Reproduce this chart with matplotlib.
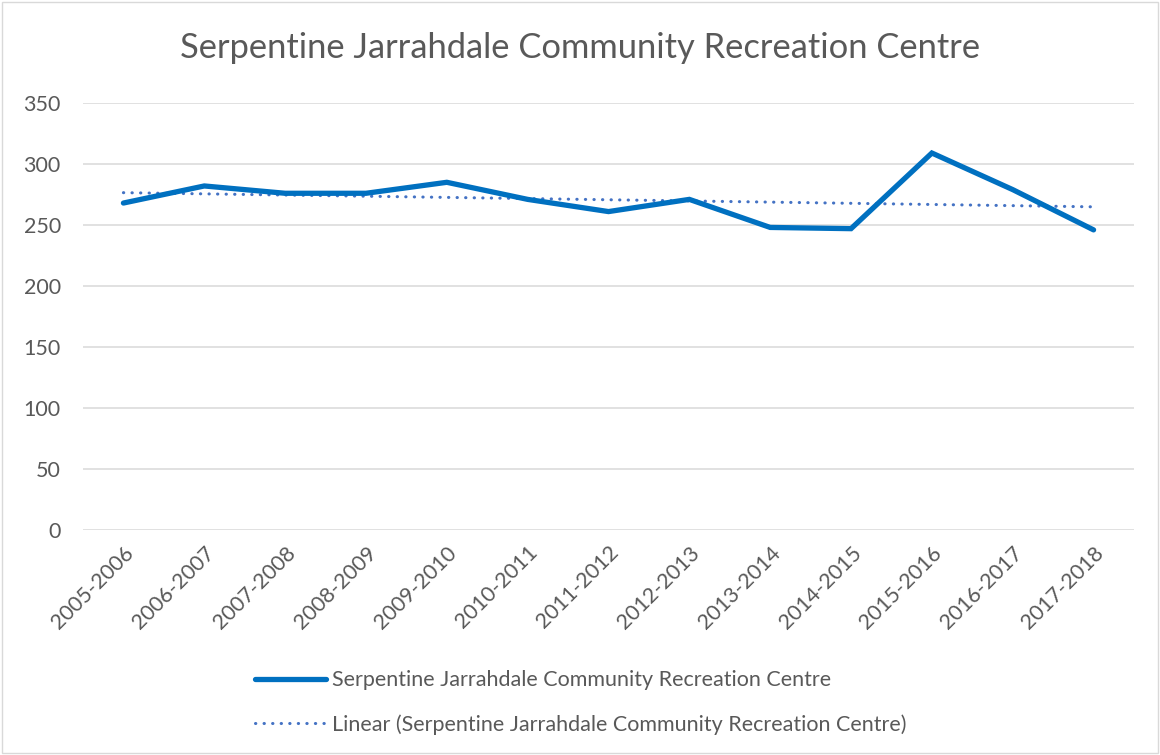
import numpy as np
import matplotlib
matplotlib.use("Agg")
import matplotlib.pyplot as plt
from matplotlib.patches import Rectangle
from matplotlib.lines import Line2D

plt.rcParams['font.family'] = ['Lato', 'DejaVu Sans']

# data
seasons = ['2005-2006', '2006-2007', '2007-2008', '2008-2009', '2009-2010',
           '2010-2011', '2011-2012', '2012-2013', '2013-2014', '2014-2015',
           '2015-2016', '2016-2017', '2017-2018']
visits = [268, 282, 276, 276, 285, 271, 261, 271, 248, 247, 309, 279, 246]
y_ticks = [0, 50, 100, 150, 200, 250, 300, 350]

title = 'Serpentine Jarrahdale Community Recreation Centre'
series_name = 'Serpentine Jarrahdale Community Recreation Centre'

grey = '#595959'
x = np.arange(len(seasons))

# linear trendline, same as excel
slope, icpt = np.polyfit(x, visits, 1)
trend = slope * x + icpt

dotted = (0, (0.1, 2.7))

fig = plt.figure(figsize=(11.6, 7.55), dpi=100)
ax = fig.add_axes([83 / 1160, 1 - 530 / 755, 1051 / 1160, 427 / 755])

ax.plot(x, visits, color='#0070C0', lw=3.8, solid_capstyle='round',
        solid_joinstyle='miter', zorder=3)
ax.plot(x, trend, color='#4472C4', lw=2.2, linestyle=dotted,
        dash_capstyle='round', zorder=2)

ax.set_xlim(-0.5, len(seasons) - 0.5)
ax.set_ylim(0, 350)
ax.set_yticks(y_ticks)
ax.set_xticks(x)
ax.set_xticklabels(seasons, rotation=45, ha='right', rotation_mode='anchor')
ax.tick_params(axis='both', length=0, labelsize=15.5, colors=grey)
ax.tick_params(axis='y', pad=16)
ax.tick_params(axis='x', pad=9)
ax.grid(axis='y', color='#D9D9D9', lw=1.1)
ax.set_axisbelow(True)
for s in ax.spines.values():
    s.set_visible(False)

fig.text(0.5, 1 - 48 / 755, title, ha='center', va='center',
         fontsize=24.8, color=grey)

# legend drawn under the plot, excel style
handles = [Line2D([], [], color='#0070C0', lw=3.8, solid_capstyle='round'),
           Line2D([], [], color='#4472C4', lw=2.2, linestyle=dotted,
                  dash_capstyle='round')]
labels = [series_name, 'Linear (' + series_name + ')']
leg = fig.legend(handles, labels, loc='upper left',
                 bbox_to_anchor=(236 / 1160, 1 - 651 / 755), frameon=False,
                 fontsize=15.5, handlelength=3.3, handletextpad=0.25,
                 labelspacing=1.1, labelcolor=grey)

# chart border
fig.patches.append(Rectangle((0.002, 0.002), 0.996, 0.996, transform=fig.transFigure,
                             fill=False, edgecolor='#D9D9D9', lw=1))

fig.savefig('out.png', dpi=100)
